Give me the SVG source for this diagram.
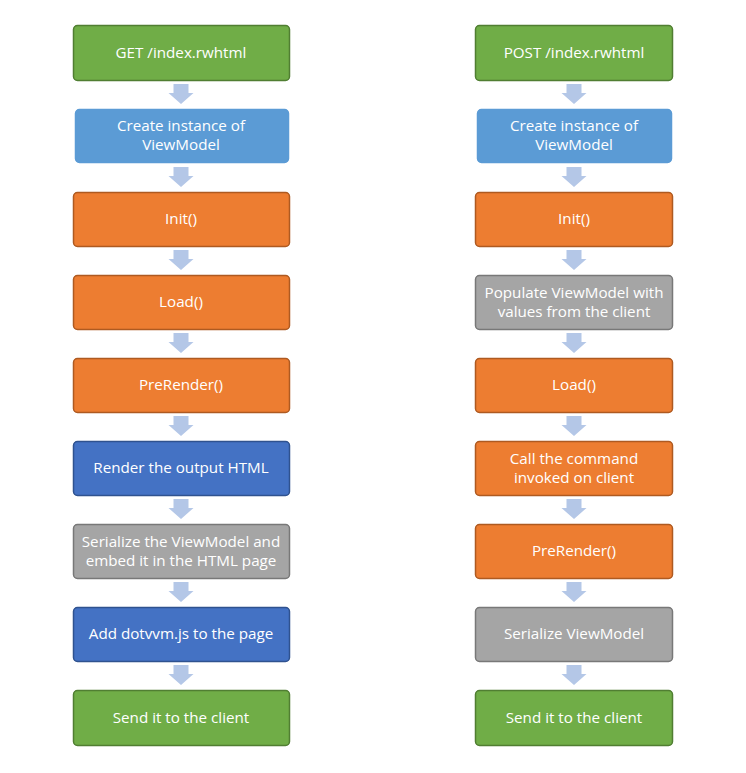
<svg xmlns="http://www.w3.org/2000/svg" width="746" height="773" viewBox="0 0 746 773">
<style>
.b rect{stroke-width:1.5}
.green rect{fill:#70AD47;stroke:#507E32}
.lblue rect{fill:#5B9BD5;stroke:#5B9BD5}
.orange rect{fill:#ED7D31;stroke:#AE5A21}
.dblue rect{fill:#4472C4;stroke:#2F528F}
.gray rect{fill:#A5A5A5;stroke:#787878}
text{font-family:"Open Sans","Liberation Sans",sans-serif;font-size:15.2px;fill:#fff;text-anchor:middle}
.arr{fill:#B4C7E7}
</style>
<defs>
<path id="ar" d="M-7.5,0 H7.5 V9 H12.5 L0,20 L-12.5,9 H-7.5 Z"/>
</defs>
<rect width="746" height="773" fill="#fff"/>
<g id="connectors" class="arr">
<use href="#ar" x="181" y="84"/>
<use href="#ar" x="181" y="167"/>
<use href="#ar" x="181" y="250"/>
<use href="#ar" x="181" y="333"/>
<use href="#ar" x="181" y="416"/>
<use href="#ar" x="181" y="499"/>
<use href="#ar" x="181" y="582"/>
<use href="#ar" x="181" y="665"/>
<use href="#ar" x="574" y="84"/>
<use href="#ar" x="574" y="167"/>
<use href="#ar" x="574" y="250"/>
<use href="#ar" x="574" y="333"/>
<use href="#ar" x="574" y="416"/>
<use href="#ar" x="574" y="499"/>
<use href="#ar" x="574" y="582"/>
<use href="#ar" x="574" y="665"/>
</g>
<g id="L1" class="b green"><rect x="73.5" y="25.5" width="216" height="55" rx="4"/><text x="181" y="58">GET /index.rwhtml</text></g>
<g id="L2" class="b lblue"><rect x="75.5" y="109.5" width="213" height="53" rx="4"/><text x="181" y="131">Create instance of</text><text x="181" y="150">ViewModel</text></g>
<g id="L3" class="b orange"><rect x="73.5" y="192.5" width="216" height="54" rx="4"/><text x="181" y="224">Init()</text></g>
<g id="L4" class="b orange"><rect x="73.5" y="275.5" width="216" height="54" rx="4"/><text x="181" y="307">Load()</text></g>
<g id="L5" class="b orange"><rect x="73.5" y="358.5" width="216" height="54" rx="4"/><text x="181" y="390">PreRender()</text></g>
<g id="L6" class="b dblue"><rect x="73.5" y="441.5" width="216" height="54" rx="4"/><text x="181" y="473">Render the output HTML</text></g>
<g id="L7" class="b gray"><rect x="73.5" y="524.5" width="216" height="54" rx="4"/><text x="181" y="547">Serialize the ViewModel and</text><text x="181" y="566">embed it in the HTML page</text></g>
<g id="L8" class="b dblue"><rect x="73.5" y="607.5" width="216" height="54" rx="4"/><text x="181" y="639">Add dotvvm.js to the page</text></g>
<g id="L9" class="b green"><rect x="73.5" y="690.5" width="216" height="55" rx="4"/><text x="181" y="723">Send it to the client</text></g>
<g id="R1" class="b green"><rect x="475.5" y="25.5" width="197" height="55" rx="4"/><text x="574" y="58">POST /index.rwhtml</text></g>
<g id="R2" class="b lblue"><rect x="477.5" y="109.5" width="194" height="53" rx="4"/><text x="574" y="131">Create instance of</text><text x="574" y="150">ViewModel</text></g>
<g id="R3" class="b orange"><rect x="475.5" y="192.5" width="197" height="54" rx="4"/><text x="574" y="224">Init()</text></g>
<g id="R4" class="b gray"><rect x="475.5" y="275.5" width="197" height="54" rx="4"/><text x="574" y="298">Populate ViewModel with</text><text x="574" y="317">values from the client</text></g>
<g id="R5" class="b orange"><rect x="475.5" y="358.5" width="197" height="54" rx="4"/><text x="574" y="390">Load()</text></g>
<g id="R6" class="b orange"><rect x="475.5" y="441.5" width="197" height="54" rx="4"/><text x="574" y="464">Call the command</text><text x="574" y="483">invoked on client</text></g>
<g id="R7" class="b orange"><rect x="475.5" y="524.5" width="197" height="54" rx="4"/><text x="574" y="556">PreRender()</text></g>
<g id="R8" class="b gray"><rect x="475.5" y="607.5" width="197" height="54" rx="4"/><text x="574" y="639">Serialize ViewModel</text></g>
<g id="R9" class="b green"><rect x="475.5" y="690.5" width="197" height="55" rx="4"/><text x="574" y="723">Send it to the client</text></g>
</svg>
